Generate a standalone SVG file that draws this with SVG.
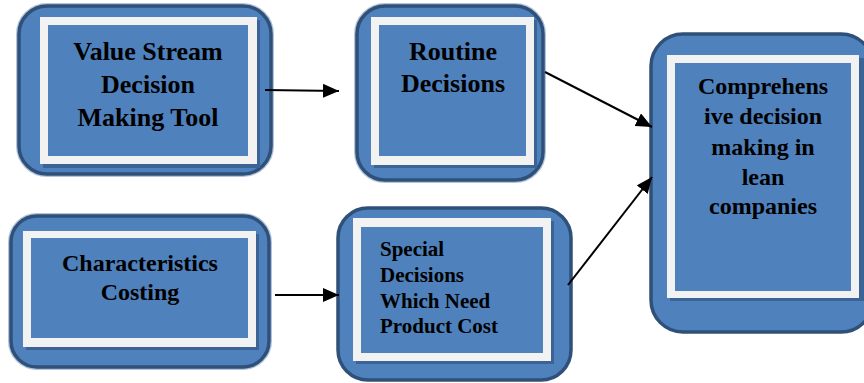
<svg xmlns="http://www.w3.org/2000/svg" width="864" height="383" viewBox="0 0 864 383">
  <defs>
    <marker id="arrow" viewBox="0 0 16 14" refX="16" refY="7" markerWidth="16" markerHeight="14" markerUnits="userSpaceOnUse" orient="auto">
      <path d="M0,0 L16,7 L0,14 Z" fill="#000"/>
    </marker>
  </defs>
  <style>
    .outer { fill: #4f81bd; stroke: #2f5079; stroke-width: 3.5; }
    .halo { fill: none; stroke: #7f9cc4; stroke-width: 6; opacity: 0.6; }
    .shadow { fill: #3b6395; }
    .frame { fill: #f2f2f2; }
    .inner { fill: #4f81bd; }
    .label { font-family: "Liberation Serif", "Times New Roman", serif; font-weight: bold; fill: #000; }
    .mid { text-anchor: middle; }
    .conn { stroke: #000; stroke-width: 2; fill: none; marker-end: url(#arrow); }
  </style>

  <g id="value-stream-tool">
    <rect class="halo" x="19" y="6" width="252" height="168" rx="28"/>
    <rect class="outer" x="19" y="6" width="252" height="168" rx="28"/>
    <rect class="shadow" x="43" y="20" width="217" height="148"/>
    <rect class="frame" x="40" y="17" width="217" height="147"/>
    <rect class="inner" x="48" y="25" width="200" height="131"/>
    <text class="label mid" font-size="26" x="148" y="60">Value Stream</text>
    <text class="label mid" font-size="26" x="148" y="93">Decision</text>
    <text class="label mid" font-size="26" x="148" y="126">Making Tool</text>
  </g>

  <g id="routine-decisions">
    <rect class="halo" x="357" y="6" width="186" height="174" rx="28"/>
    <rect class="outer" x="357" y="6" width="186" height="174" rx="28"/>
    <rect class="shadow" x="374" y="20" width="163" height="148"/>
    <rect class="frame" x="371" y="17" width="163" height="148"/>
    <rect class="inner" x="379" y="25" width="147" height="131"/>
    <text class="label mid" font-size="26" x="453" y="60">Routine</text>
    <text class="label mid" font-size="26" x="453" y="92">Decisions</text>
  </g>

  <g id="comprehensive-decision">
    <rect class="outer" x="651" y="34" width="222" height="298" rx="32"/>
    <rect class="shadow" x="670" y="58" width="194" height="243"/>
    <rect class="frame" x="667" y="55" width="192" height="243"/>
    <rect class="inner" x="675" y="63" width="176" height="228"/>
    <text class="label mid" font-size="24" x="763" y="94">Comprehens</text>
    <text class="label mid" font-size="24" x="763" y="124">ive decision</text>
    <text class="label mid" font-size="24" x="763" y="155">making in</text>
    <text class="label mid" font-size="24" x="763" y="185">lean</text>
    <text class="label mid" font-size="24" x="763" y="214">companies</text>
  </g>

  <g id="characteristics-costing">
    <rect class="halo" x="11" y="216" width="258" height="151" rx="26"/>
    <rect class="outer" x="11" y="216" width="258" height="151" rx="26"/>
    <rect class="shadow" x="26" y="234" width="233" height="116"/>
    <rect class="frame" x="23" y="231" width="233" height="116"/>
    <rect class="inner" x="31" y="238" width="217" height="100"/>
    <text class="label mid" font-size="24" x="140" y="271">Characteristics</text>
    <text class="label mid" font-size="24" x="140" y="300">Costing</text>
  </g>

  <g id="special-decisions">
    <rect class="outer" x="338" y="208" width="233" height="172" rx="30"/>
    <rect class="shadow" x="356" y="221" width="198" height="143"/>
    <rect class="frame" x="353" y="218" width="198" height="143"/>
    <rect class="inner" x="361" y="227" width="182" height="126"/>
    <text class="label" font-size="21" x="380" y="256">Special</text>
    <text class="label" font-size="21" x="380" y="282">Decisions</text>
    <text class="label" font-size="21" x="380" y="308">Which Need</text>
    <text class="label" font-size="21" x="380" y="333">Product Cost</text>
  </g>

  <g id="connectors">
    <line class="conn" x1="265" y1="90" x2="339" y2="91"/>
    <line class="conn" x1="545" y1="72" x2="652" y2="127"/>
    <line class="conn" x1="568" y1="285" x2="652" y2="177"/>
    <line class="conn" x1="275" y1="295" x2="339" y2="295"/>
  </g>
</svg>
